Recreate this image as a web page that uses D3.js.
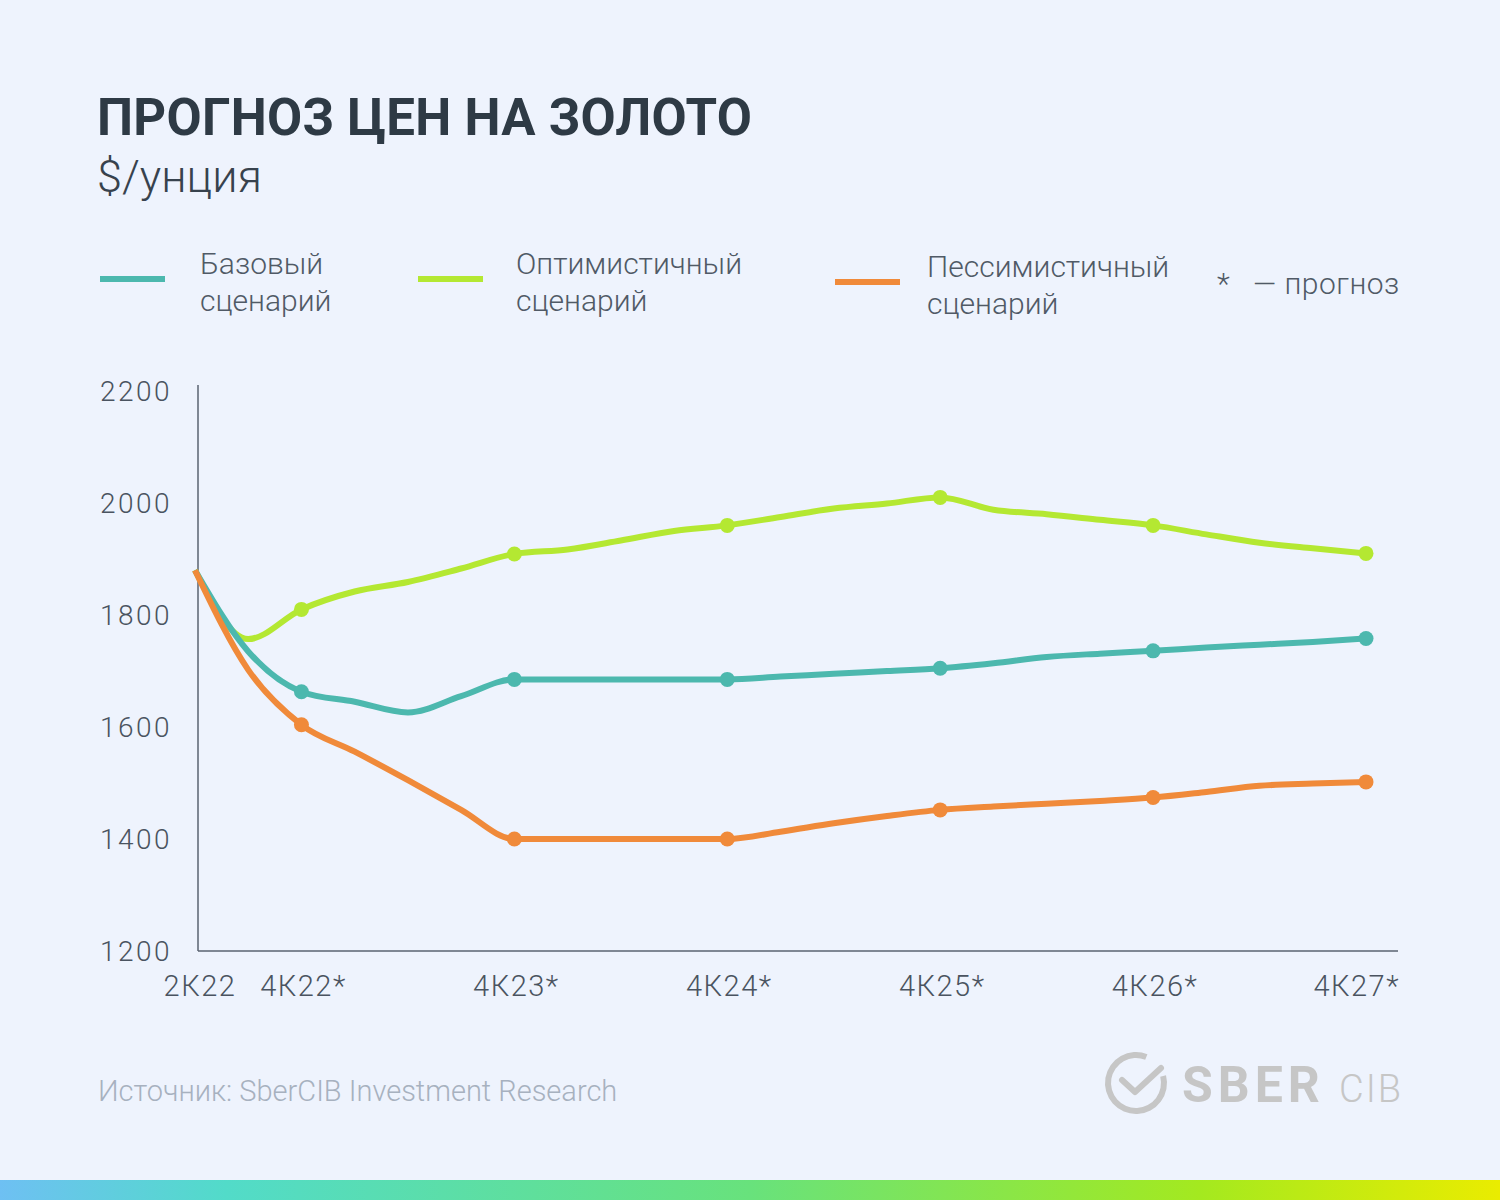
<!DOCTYPE html>
<html>
<head>
<meta charset="utf-8">
<script src="https://cdn.jsdelivr.net/npm/d3@7"></script>
<style>
  html, body { margin: 0; padding: 0; background: #eef3fd; }
  svg { display: block; }
  text { font-family: Roboto, "Open Sans", sans-serif; }
</style>
</head>
<body>
<svg id="chart" width="1500" height="1200"></svg>
<script>
// ---- data ----
const quarters = ["2К22","3К22","4К22","1К23","2К23","3К23","4К23","1К24","2К24","3К24","4К24",
                  "1К25","2К25","3К25","4К25","1К26","2К26","3К26","4К26","1К27","2К27","3К27","4К27"];
const baseScenario = [1880,1735,1663,1645,1626,1655,1685,1685,1685,1685,1685,1690,1695,1700,1705,1714,1725,1731,1736,1742,1747,1752,1758];
const optimisticScenario = [1880,1757,1810,1842,1859,1883,1909,1917,1933,1950,1960,1975,1990,1999,2010,1988,1980,1970,1960,1944,1929,1919,1910];
const pessimisticScenario = [1880,1702,1604,1556,1505,1452,1400,1400,1400,1400,1400,1413,1428,1441,1452,1458,1463,1468,1474,1484,1495,1499,1502];
const xTickLabels = ["2К22","4К22*","4К23*","4К24*","4К25*","4К26*","4К27*"];
const yTicks = [1200,1400,1600,1800,2000,2200];
const seriesNames = ["Базовый сценарий","Оптимистичный сценарий","Пессимистичный сценарий"];
const seriesColors = ["#4cb8ae","#b4e832","#f08a3a"];

const svg = d3.select("#chart");

// background
svg.append("rect").attr("width",1500).attr("height",1200).attr("fill","#eef3fd");

// bottom gradient bar
const defs = svg.append("defs");
const grad = defs.append("linearGradient").attr("id","bar").attr("x1","0").attr("x2","1");
[["0%","#6ec0f3"],["15%","#52dbc9"],["50%","#68e27c"],["80%","#a4e91f"],["100%","#eaec00"]]
  .forEach(([o,c]) => grad.append("stop").attr("offset",o).attr("stop-color",c));
svg.append("rect").attr("x",0).attr("y",1180).attr("width",1500).attr("height",20).attr("fill","url(#bar)");

// title
svg.append("text").attr("x",97).attr("y",135).attr("font-size",51).attr("font-weight",700)
  .attr("fill","#2e3a45").attr("letter-spacing",0.3).text("ПРОГНОЗ ЦЕН НА ЗОЛОТО");
svg.append("text").attr("x",97).attr("y",192).attr("font-size",45).attr("font-weight",300)
  .attr("fill","#37424d").text("$/унция");

// scales
const x = d3.scaleLinear().domain([0, quarters.length - 1]).range([195, 1366]);
const y = d3.scaleLinear().domain([1200, 2200]).range([951, 391]);

// axes
const gx = svg.append("g").attr("transform","translate(0,951)");
gx.append("line").attr("x1",198).attr("x2",1398).attr("stroke","#5a6370").attr("stroke-width",1.5);
const tickIdx = xTickLabels.map(l => quarters.indexOf(l.replace("*","")));
const lastTick = xTickLabels.length - 1;
gx.selectAll("text.xt").data(xTickLabels).join("text")
  .attr("class","xt")
  .attr("x",(d,i) => i === lastTick ? 1400 : x(tickIdx[i]) + (i === 0 ? 5 : 2))
  .attr("y",45).attr("text-anchor",(d,i) => i === lastTick ? "end" : "middle")
  .attr("font-size",29).attr("font-weight",300).attr("fill","#4a5360")
  .attr("letter-spacing",1.5)
  .text(d => d);

const gy = svg.append("g");
gy.append("line").attr("x1",198).attr("x2",198).attr("y1",385).attr("y2",951)
  .attr("stroke","#5a6370").attr("stroke-width",1.5);
gy.selectAll("text.yt").data(yTicks).join("text")
  .attr("class","yt")
  .attr("x",172).attr("y",d => y(d)).attr("dy","0.36em").attr("text-anchor","end")
  .attr("font-size",28).attr("font-weight",300).attr("fill","#4a5360")
  .attr("letter-spacing",2.5)
  .text(d => d);

// lines
const allSeries = [baseScenario, optimisticScenario, pessimisticScenario];
const line = d3.line().x((d,i) => x(i)).y(d => y(d)).curve(d3.curveMonotoneX);
const drawOrder = [1, 0, 2];
drawOrder.forEach(k => {
  svg.append("path").datum(allSeries[k]).attr("d", line)
    .attr("fill","none").attr("stroke",seriesColors[k]).attr("stroke-width",6)
    .attr("stroke-linecap","butt").attr("stroke-linejoin","round");
});
const markerIdx = tickIdx.filter((d,i) => xTickLabels[i].endsWith("*"));
drawOrder.forEach(k => {
  svg.append("g").selectAll("circle").data(markerIdx).join("circle")
    .attr("cx", d => x(d)).attr("cy", d => y(allSeries[k][d])).attr("r",7.5)
    .attr("fill",seriesColors[k]);
});

// legend
const legendPos = [{x:100, y:279, tx:200}, {x:418, y:279, tx:516}, {x:835, y:282, tx:927}];
seriesNames.forEach((name, k) => {
  const p = legendPos[k];
  svg.append("line").attr("x1",p.x).attr("x2",p.x + 65).attr("y1",p.y).attr("y2",p.y)
    .attr("stroke",seriesColors[k]).attr("stroke-width",6);
  const parts = name.split(" ");
  const t = svg.append("text").attr("y",p.y - 5).attr("font-size",30).attr("font-weight",300).attr("fill","#505a66");
  t.append("tspan").attr("x",p.tx).attr("dy",0).text(parts[0]);
  t.append("tspan").attr("x",p.tx).attr("dy",37).text(parts[1]);
});
svg.append("text").attr("x",1217).attr("y",294).attr("font-size",30).attr("font-weight",300)
  .attr("fill","#505a66").text("*");
svg.append("text").attr("x",1253).attr("y",294).attr("font-size",30).attr("font-weight",300)
  .attr("fill","#505a66").attr("letter-spacing",0.5).text("— прогноз");

// source
svg.append("text").attr("x",98).attr("y",1101).attr("font-size",29).attr("font-weight",300)
  .attr("fill","#a7b1bf").text("Источник: SberCIB Investment Research");

// logo
const logo = svg.append("g").attr("fill","none").attr("stroke","#c6c6c6");
const arc = d3.arc().innerRadius(25).outerRadius(31)
  .startAngle(Math.PI * 0.42).endAngle(Math.PI * 2.12);
logo.append("path").attr("d", arc()).attr("transform","translate(1136,1083)").attr("fill","#c6c6c6").attr("stroke","none");
logo.append("path").attr("d","M1122,1080 L1135,1092 L1161,1068").attr("stroke-width",6)
  .attr("stroke-linecap","round").attr("stroke-linejoin","round");
svg.append("text").attr("x",1182).attr("y",1102).attr("font-size",50).attr("font-weight",700)
  .attr("fill","#c6c6c6").attr("letter-spacing",5).text("SBER");
svg.append("text").attr("x",1339).attr("y",1102).attr("font-size",38).attr("font-weight",300)
  .attr("fill","#c6c6c6").attr("letter-spacing",2).text("CIB");
</script>
</body>
</html>
